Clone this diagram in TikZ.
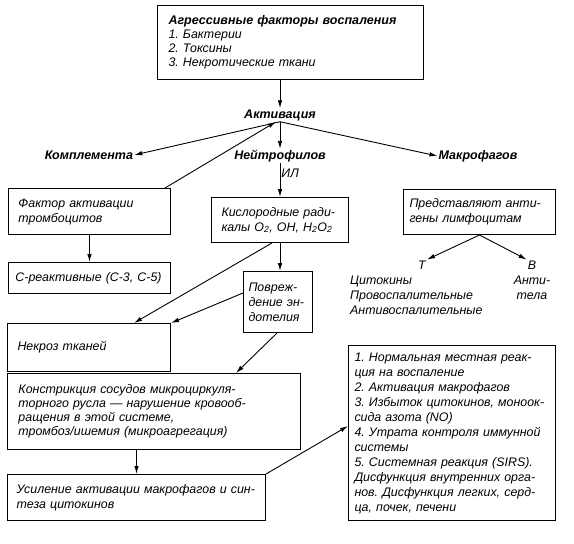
\documentclass[tikz,border=0pt]{standalone}
\usepackage{fontspec}
\setmainfont{Liberation Sans}
\usetikzlibrary{positioning, calc, arrows.meta}
\newcommand{\inftext}{\fontsize{12.4}{15}\selectfont\itshape\frenchspacing}
\newcommand{\inftight}{\fontsize{12.4}{14}\selectfont\itshape\frenchspacing}
\newcommand{\infhead}{\fontsize{12.5}{15}\selectfont\itshape\bfseries}
\tikzset{
  >={Latex[length=8pt, width=4.5pt]},
  inf edge/.style={draw=black, ->, line width=0.9pt},
  inf box/.style={draw=black, fill=white, anchor=north west, align=left,
    inner xsep=10pt, inner ysep=2pt, line width=1pt, font=\inftext},
  inf key/.style={font=\infhead, inner sep=1pt},
  inf note/.style={font=\inftext, inner sep=1pt, align=left},
}
\begin{document}
\begin{tikzpicture}[x=1pt, y=-1pt]
 \useasboundingbox (0,0) rectangle (574,544);
 % top of the scheme
 \node[inf box, inner xsep=11pt, minimum width=266pt, minimum height=74pt, text width=244pt,
   font=\inftight] (agr) at (157,5)
   {{\infhead Агрессивные факторы воспаления}\\1. Бактерии\\2. Токсины\\3. Некротические ткани};
 \node[inf key] (act) at (280,115) {Активация};
 \coordinate (hub) at (act.south);
 \node[inf key] (compl) at (89,155) {Комплемента};
 \node[inf key] (neut) at (280,156) {Нейтрофилов};
 \node[inf key] (macr) at (478,156) {Макрофагов};
 % left column
 \node[inf box, minimum width=162pt, minimum height=46pt, text width=142pt] (fact) at (8,188)
   {Фактор активации\\тромбоцитов};
 \node[inf box, inner xsep=7pt, minimum width=162pt, minimum height=31pt, text width=148pt] (crp) at (8,262)
   {С-реактивные (С-3, С-5)};
 \node[inf box, minimum width=163pt, minimum height=48pt, text width=143pt] (necr) at (7,323)
   {Некроз тканей};
 \node[inf box, inner xsep=11pt, minimum width=293pt, minimum height=76pt, text width=271pt,
   font=\inftight] (kon) at (7,373)
   {Констрикция сосудов микроциркуля-\\торного русла — нарушение кровооб-\\ращения в этой системе,\\тромбоз/ишемия (микроагрегация)};
 \node[inf box, inner xsep=9pt, minimum width=258pt, minimum height=46pt, text width=240pt] (usil) at (7,474)
   {Усиление активации макрофагов и син-\\теза цитокинов};
 % middle column
 \node[inf box, inner xsep=10pt, minimum width=137pt, minimum height=45pt, text width=117pt] (oxy) at (211,197)
   {Кислородные ради-\\калы O\textsubscript{2}, OH, H\textsubscript{2}O\textsubscript{2}};
 \node[inf box, inner xsep=5pt, minimum width=69pt, minimum height=61pt, text width=59pt] (dmg) at (243,271)
   {Повреж-\\дение эн-\\дотелия};
 % right column
 \node[inf box, inner xsep=6pt, minimum width=152pt, minimum height=45pt, text width=140pt] (prez) at (403,189)
   {Представляют анти-\\гены лимфоцитам};
 \node[inf note] (tcell) at (422,265) {T};
 \node[inf note] (bcell) at (532,265) {B};
 \node[inf note, anchor=north west] (cyto) at (349,275)
   {Цитокины\\Провоспалительные\\Антивоспалительные};
 \node[inf note, align=center, anchor=north] (abod) at (532,275) {Анти-\\тела};
 \node[inf box, inner xsep=6pt, minimum width=207pt, minimum height=175pt, text width=195pt] (stage) at (348,345)
   {1. Нормальная местная реак-\\ция на воспаление\\2. Активация макрофагов\\3. Избыток цитокинов, моноок-\\сида азота (NO)\\4. Утрата контроля иммунной\\системы\\5. Системная реакция (SIRS).\\Дисфункция внутренних орга-\\нов. Дисфункция легких, серд-\\ца, почек, печени};
 % connectors
 \draw[inf edge] (agr.south -| act.north) -- (act.north);
 \draw[inf edge] (hub) -- (compl.east);
 \draw[inf edge] ([xshift=-6pt]fact.north east) -- ([xshift=-4pt]hub);
 \draw[inf edge] (hub) -- (neut.north);
 \draw[inf edge] (hub) -- (macr.west);
 \draw[inf edge] (neut.south) -- node[pos=0.3, right, inf note] {ИЛ} (neut.south |- oxy.north);
 \draw[inf edge] (fact.south) -- (crp.north);
 \draw[inf edge] (neut.south |- oxy.south) -- (neut.south |- dmg.north);
 \draw[inf edge] ([xshift=-8pt]oxy.south) -- ([xshift=45pt]necr.north);
 \draw[inf edge] ([yshift=9pt]dmg.west) -- (necr.north east);
 \draw[inf edge] ([xshift=-1pt]dmg.south) -- ([xshift=82pt]kon.north);
 \draw[inf edge] (kon.south -| usil.north) -- (usil.north);
 \draw[inf edge] (usil.north east) -- ([yshift=7pt]stage.west);
 \draw[inf edge] (prez.south) -- (tcell.north east);
 \draw[inf edge] (prez.south) -- (bcell.north west);
\end{tikzpicture}
\end{document}
